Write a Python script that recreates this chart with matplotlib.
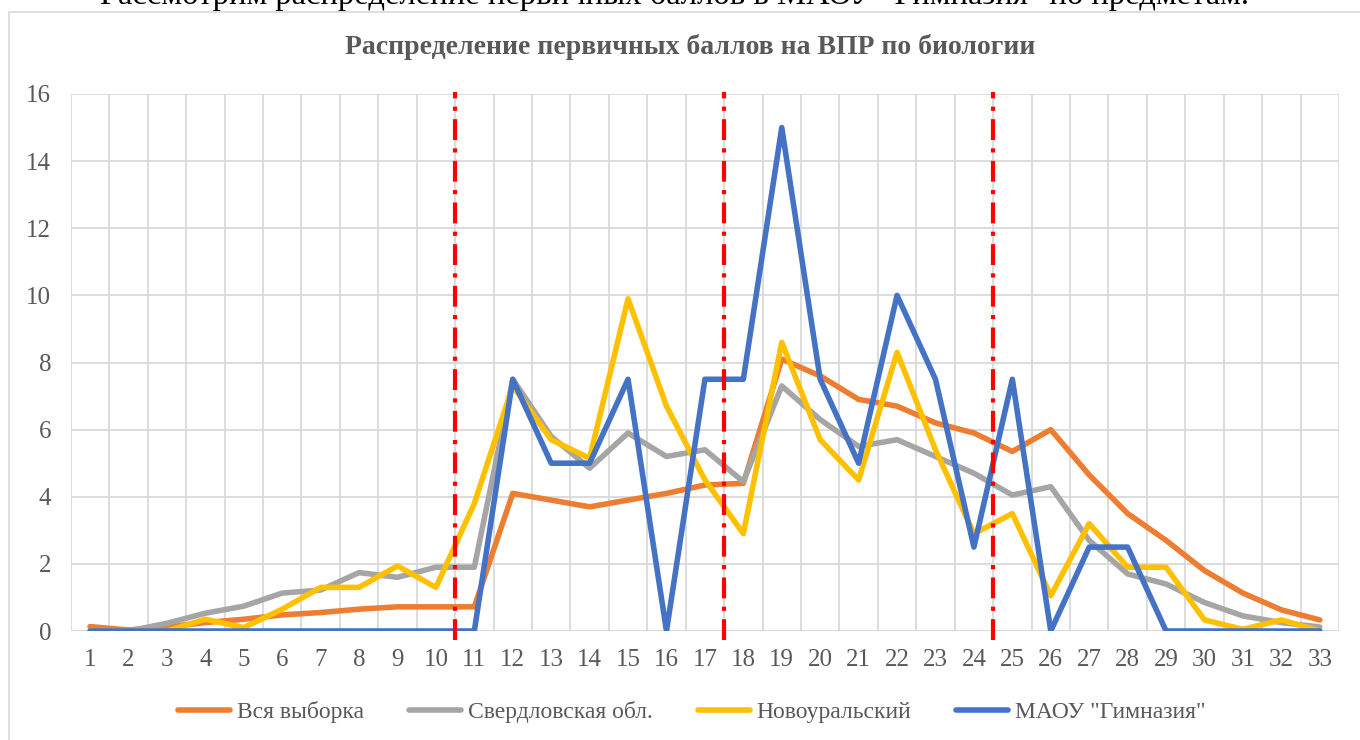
import matplotlib.pyplot as plt
from matplotlib.patches import Rectangle

plt.rcParams['font.family'] = ['Liberation Serif', 'DejaVu Serif']
plt.rcParams['font.size'] = 17

# баллы 1..33
scores = list(range(1, 34))
vsya = [0.13, 0.03, 0.12, 0.25, 0.35, 0.48, 0.55, 0.65, 0.72, 0.72, 0.72,
        4.1, 3.9, 3.7, 3.9, 4.1, 4.35, 4.4, 8.1, 7.6, 6.9, 6.7, 6.2, 5.9,
        5.35, 6.0, 4.65, 3.5, 2.7, 1.8, 1.13, 0.63, 0.33]
sverdl = [0.0, 0.0, 0.23, 0.53, 0.74, 1.13, 1.22, 1.74, 1.6, 1.9, 1.9,
          7.5, 5.8, 4.85, 5.9, 5.2, 5.4, 4.45, 7.3, 6.3, 5.5, 5.7, 5.2, 4.7,
          4.05, 4.3, 2.7, 1.7, 1.4, 0.85, 0.45, 0.25, 0.12]
novour = [0.0, 0.0, 0.0, 0.35, 0.1, 0.65, 1.3, 1.3, 1.94, 1.3, 3.8,
          7.3, 5.7, 5.15, 9.9, 6.7, 4.5, 2.9, 8.6, 5.7, 4.5, 8.3, 5.4, 2.9,
          3.5, 1.05, 3.2, 1.9, 1.9, 0.33, 0.05, 0.33, 0.0]
gimn = [0, 0, 0, 0, 0, 0, 0, 0, 0, 0, 0,
        7.5, 5, 5, 7.5, 0, 7.5, 7.5, 15, 7.5, 5, 10, 7.5, 2.5,
        7.5, 0, 2.5, 2.5, 0, 0, 0, 0, 0]
borders = [10.5, 17.5, 24.5]

fig = plt.figure(figsize=(13.6, 7.4), dpi=100)

# рамка диаграммы и обрезанная строка текста документа сверху
fig.patches.append(Rectangle((9 / 1360, -0.1), 1.2, 1 - 12 / 740 + 0.1,
                             transform=fig.transFigure, fill=False,
                             edgecolor='#D9D9D9', linewidth=1.2))
fig.text(100 / 1360, 1 - 4 / 740,
         'Рассмотрим распределение первичных баллов в МАОУ "Гимназия" по предметам.',
         ha='left', va='baseline', fontsize=23.5, color='black')

ax = fig.add_axes([70.8 / 1360, 1 - 631 / 740, (1339 - 70.8) / 1360, (631 - 94) / 740])

lw = 4
ax.plot(scores, vsya, color='#ED7D31', linewidth=lw, label='Вся выборка', solid_capstyle='round')
ax.plot(scores, sverdl, color='#A5A5A5', linewidth=lw, label='Свердловская обл.', solid_capstyle='round')
ax.plot(scores, novour, color='#FFC000', linewidth=lw, label='Новоуральский', solid_capstyle='round')
ax.plot(scores, gimn, color='#4472C4', linewidth=lw, label='МАОУ "Гимназия"', solid_capstyle='round')

for b in borders:
    ax.plot([b, b], [-0.28, 16.06], color='#FF0000', linewidth=3,
            dashes=(5, 2, 1, 2), clip_on=False, zorder=5)

ax.set_xlim(0.5, 33.5)
ax.set_ylim(0, 16)
ax.set_xticks(scores)
ax.set_xticks([s + 0.5 for s in range(0, 34)], minor=True)
ax.set_yticks(range(0, 17, 2))
ax.grid(True, which='minor', axis='x', color='#D9D9D9', linewidth=1.3)
ax.grid(True, which='major', axis='y', color='#D9D9D9', linewidth=1.3)
ax.set_axisbelow(True)
ax.tick_params(which='both', length=0, colors='#595959', labelsize=18)
ax.tick_params(axis='y', pad=14)
ax.tick_params(axis='x', pad=13)
for s in ax.spines.values():
    s.set_visible(False)
ax.axhline(0, color='#D9D9D9', linewidth=1.3, zorder=0)

fig.text(690 / 1360, 1 - 47 / 740, 'Распределение первичных баллов на ВПР по биологии',
         ha='center', va='center', fontsize=20, fontweight='bold', color='#595959')

leg = fig.legend(loc='center', bbox_to_anchor=(692 / 1360, 1 - 712 / 740), ncol=4,
                 frameon=False, fontsize=17, handlelength=2.2, columnspacing=1.9,
                 handletextpad=0.3)
for t in leg.get_texts():
    t.set_color('#595959')

fig.savefig('out.png', dpi=100)
